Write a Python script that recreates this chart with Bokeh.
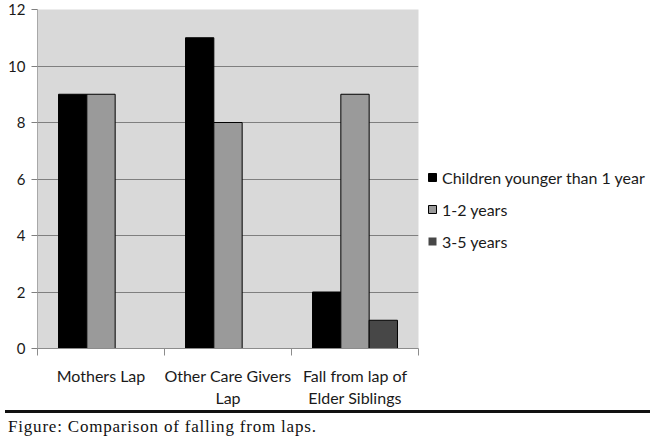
from bokeh.plotting import figure
from bokeh.models import (ColumnDataSource, Range1d, FixedTicker, Legend, LegendItem, Div)
from bokeh.layouts import column
from bokeh.transform import dodge
from bokeh.embed import file_html
from bokeh.resources import INLINE

# ---- data ----
categories = ["Mothers Lap", "Other Care Givers\nLap", "Fall from lap of\nElder Siblings"]
series_names = ["Children younger than 1 year", "1-2 years", "3-5 years"]
under_1_year = [9, 11, 2]
one_to_two_years = [9, 8, 9]
three_to_five_years = [0, 0, 1]
y_ticks = [0, 2, 4, 6, 8, 10, 12]
caption = "Figure: Comparison of falling from laps."

# ---- style ----
colors = ["#000000", "#9a9a9a", "#474747"]
FONT = "Lato"
TXT = "#1a1a1a"
bar_w = 0.223

n = len(categories)
centers = [i + 0.5 for i in range(n)]
bounds = [float(i) for i in range(n + 1)]

series = [under_1_year, one_to_two_years, three_to_five_years]
data = dict(x=centers)
for i, s in enumerate(series):
    data[f"s{i}"] = s
    data[f"lc{i}"] = ["#000000" if v > 0 else None for v in s]
src = ColumnDataSource(data=data)

p = figure(x_range=Range1d(0, n), y_range=Range1d(0, 12),
           frame_width=381, frame_height=339,
           min_border_left=37, min_border_right=232, min_border_top=9, min_border_bottom=62,
           output_backend="svg", toolbar_location=None,
           background_fill_color="#d9d9d9", border_fill_color="#ffffff",
           outline_line_color=None)

renderers = []
offsets = [-bar_w, 0.0, bar_w]
for i in range(3):
    r = p.vbar(x=dodge("x", offsets[i]), top=f"s{i}", width=bar_w,
               source=src, fill_color=colors[i], line_color=f"lc{i}", line_width=1)
    renderers.append(r)

# grids
p.xgrid.grid_line_color = None
p.ygrid.grid_line_color = "#7f7f7f"
p.ygrid.grid_line_width = 1

# y axis
p.yaxis.ticker = FixedTicker(ticks=y_ticks)
p.yaxis.axis_line_color = "#a8a8a8"
p.yaxis.major_tick_line_color = "#7f7f7f"
p.yaxis.major_tick_out = 6
p.yaxis.major_tick_in = 0
p.yaxis.minor_tick_line_color = None
p.yaxis.major_label_standoff = 6
p.yaxis.major_label_text_font = FONT
p.yaxis.major_label_text_font_size = "15px"
p.yaxis.major_label_text_color = TXT

# x axis: labels at category centres, ticks at category boundaries
xa = p.xaxis[0]
xa.ticker = FixedTicker(ticks=centers, minor_ticks=bounds)
xa.major_label_overrides = {c: lab for c, lab in zip(centers, categories)}
xa.major_tick_line_color = None
xa.major_tick_out = 7
xa.major_tick_in = 0
xa.minor_tick_out = 7
xa.minor_tick_in = 0
xa.minor_tick_line_color = "#8c8c8c"
xa.axis_line_color = "#8c8c8c"
xa.major_label_standoff = 10
xa.major_label_text_font = FONT
xa.major_label_text_font_size = "16px"
xa.major_label_text_color = TXT

legend = Legend(items=[LegendItem(label=series_names[i], renderers=[renderers[i]]) for i in range(3)],
                location=(9, 97), glyph_width=10, glyph_height=10, label_standoff=5,
                spacing=12, padding=0, margin=0, label_height=20,
                border_line_color=None, background_fill_alpha=0,
                label_text_font=FONT, label_text_font_size="16px", label_text_color=TXT)
p.add_layout(legend, "right")

cap = Div(text=caption, width=650, height=30,
          styles={"border-top": "3px solid #111111", "font-family": "Liberation Serif",
                  "font-size": "17px", "letter-spacing": "0.8px", "color": "#111111",
                  "padding-left": "3px", "padding-top": "4px", "line-height": "20px",
                  "box-sizing": "border-box", "margin-top": "0px",
                  "background-color": "#ffffff"})

layout = column(p, cap, spacing=0)
open("out.html", "w").write(file_html(layout, INLINE))
